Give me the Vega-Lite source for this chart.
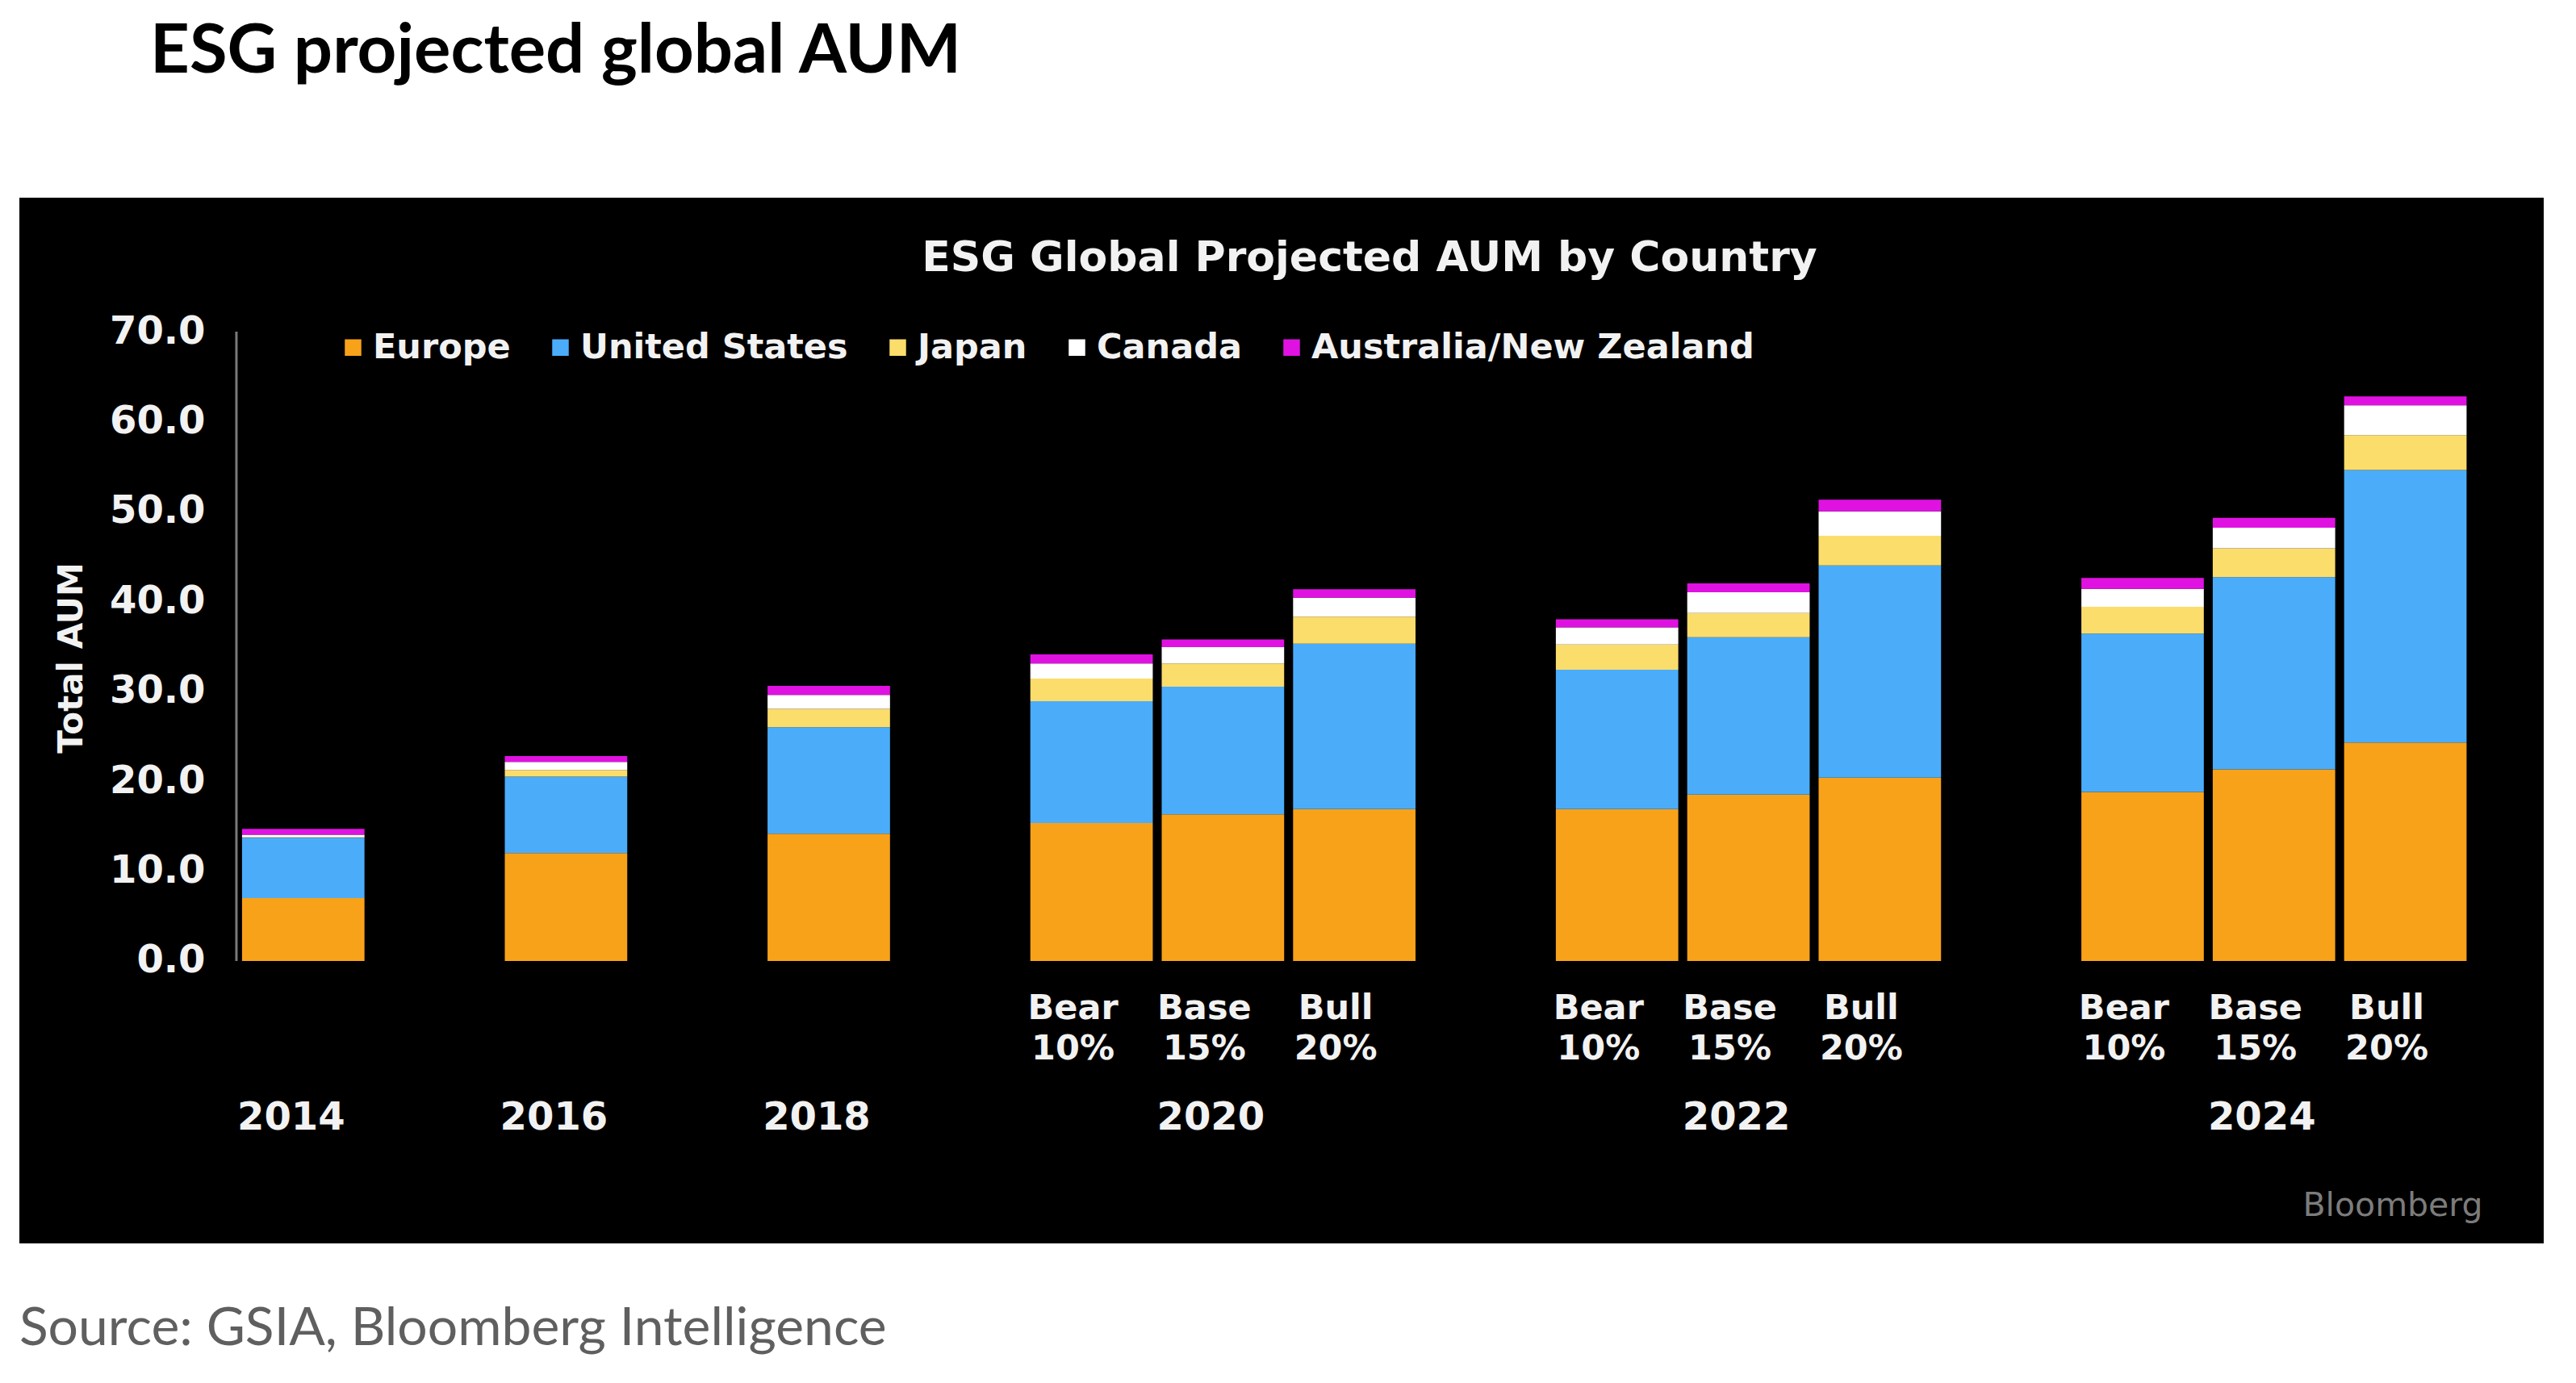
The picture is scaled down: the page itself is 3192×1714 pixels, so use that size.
{
  "$schema": "https://vega.github.io/schema/vega-lite/v6.json",
  "background": "white",
  "padding": {"left": 24, "top": 22, "right": 40, "bottom": 20},
  "title": {"text": "Source: GSIA, Bloomberg Intelligence", "orient": "bottom", "anchor": "start", "font": "Lato", "fontSize": 66, "fontWeight": "normal", "color": "#5f5f5f", "offset": 74, "baseline": "top"},
  "vconcat": [
    {
      "title": {"text": "ESG projected global AUM", "anchor": "start", "dx": 162, "font": "Lato", "fontSize": 85, "fontWeight": "bold", "color": "#000000", "offset": 137, "baseline": "top"},
      "vconcat": [
        {
          "width": 3128,
          "height": 1296,
          "title": {"text": "ESG Global Projected AUM by Country", "anchor": "middle", "dx": 109, "offset": -102, "font": "DejaVu Sans", "fontWeight": "bold", "fontSize": 52, "color": "#f2f2f2", "baseline": "top"},
          "resolve": {"axis": {"x": "independent"}},
          "layer": [
            {
              "data": {"values": [
                {"slot": "2014", "region": "Europe", "aum": 7.0},
                {"slot": "2014", "region": "United States", "aum": 6.7},
                {"slot": "2014", "region": "Japan", "aum": 0.05},
                {"slot": "2014", "region": "Canada", "aum": 0.3},
                {"slot": "2014", "region": "Australia/New Zealand", "aum": 0.65},
                {"slot": "2016", "region": "Europe", "aum": 12.0},
                {"slot": "2016", "region": "United States", "aum": 8.5},
                {"slot": "2016", "region": "Japan", "aum": 0.75},
                {"slot": "2016", "region": "Canada", "aum": 0.9},
                {"slot": "2016", "region": "Australia/New Zealand", "aum": 0.65},
                {"slot": "2018", "region": "Europe", "aum": 14.15},
                {"slot": "2018", "region": "United States", "aum": 11.85},
                {"slot": "2018", "region": "Japan", "aum": 2.05},
                {"slot": "2018", "region": "Canada", "aum": 1.55},
                {"slot": "2018", "region": "Australia/New Zealand", "aum": 1.0},
                {"slot": "2020 Bear", "region": "Europe", "aum": 15.35},
                {"slot": "2020 Bear", "region": "United States", "aum": 13.55},
                {"slot": "2020 Bear", "region": "Japan", "aum": 2.5},
                {"slot": "2020 Bear", "region": "Canada", "aum": 1.7},
                {"slot": "2020 Bear", "region": "Australia/New Zealand", "aum": 1.0},
                {"slot": "2020 Base", "region": "Europe", "aum": 16.3},
                {"slot": "2020 Base", "region": "United States", "aum": 14.2},
                {"slot": "2020 Base", "region": "Japan", "aum": 2.6},
                {"slot": "2020 Base", "region": "Canada", "aum": 1.8},
                {"slot": "2020 Base", "region": "Australia/New Zealand", "aum": 0.85},
                {"slot": "2020 Bull", "region": "Europe", "aum": 16.9},
                {"slot": "2020 Bull", "region": "United States", "aum": 18.4},
                {"slot": "2020 Bull", "region": "Japan", "aum": 3.0},
                {"slot": "2020 Bull", "region": "Canada", "aum": 2.1},
                {"slot": "2020 Bull", "region": "Australia/New Zealand", "aum": 0.95},
                {"slot": "2022 Bear", "region": "Europe", "aum": 16.9},
                {"slot": "2022 Bear", "region": "United States", "aum": 15.5},
                {"slot": "2022 Bear", "region": "Japan", "aum": 2.8},
                {"slot": "2022 Bear", "region": "Canada", "aum": 1.9},
                {"slot": "2022 Bear", "region": "Australia/New Zealand", "aum": 0.9},
                {"slot": "2022 Base", "region": "Europe", "aum": 18.5},
                {"slot": "2022 Base", "region": "United States", "aum": 17.5},
                {"slot": "2022 Base", "region": "Japan", "aum": 2.7},
                {"slot": "2022 Base", "region": "Canada", "aum": 2.3},
                {"slot": "2022 Base", "region": "Australia/New Zealand", "aum": 1.0},
                {"slot": "2022 Bull", "region": "Europe", "aum": 20.4},
                {"slot": "2022 Bull", "region": "United States", "aum": 23.6},
                {"slot": "2022 Bull", "region": "Japan", "aum": 3.3},
                {"slot": "2022 Bull", "region": "Canada", "aum": 2.7},
                {"slot": "2022 Bull", "region": "Australia/New Zealand", "aum": 1.3},
                {"slot": "2024 Bear", "region": "Europe", "aum": 18.8},
                {"slot": "2024 Bear", "region": "United States", "aum": 17.6},
                {"slot": "2024 Bear", "region": "Japan", "aum": 3.0},
                {"slot": "2024 Bear", "region": "Canada", "aum": 2.0},
                {"slot": "2024 Bear", "region": "Australia/New Zealand", "aum": 1.2},
                {"slot": "2024 Base", "region": "Europe", "aum": 21.3},
                {"slot": "2024 Base", "region": "United States", "aum": 21.4},
                {"slot": "2024 Base", "region": "Japan", "aum": 3.2},
                {"slot": "2024 Base", "region": "Canada", "aum": 2.3},
                {"slot": "2024 Base", "region": "Australia/New Zealand", "aum": 1.1},
                {"slot": "2024 Bull", "region": "Europe", "aum": 24.3},
                {"slot": "2024 Bull", "region": "United States", "aum": 30.3},
                {"slot": "2024 Bull", "region": "Japan", "aum": 3.9},
                {"slot": "2024 Bull", "region": "Canada", "aum": 3.3},
                {"slot": "2024 Bull", "region": "Australia/New Zealand", "aum": 1.0}
              ]},
              "transform": [
                {"calculate": "indexof(['Europe','United States','Japan','Canada','Australia/New Zealand'], datum.region)", "as": "stackRank"}
              ],
              "mark": {"type": "bar"},
              "encoding": {
                "x": {
                  "field": "slot", "type": "nominal",
                  "scale": {"domain": ["pad0","2014","gap1","2016","gap2","2018","gap3","2020 Bear","2020 Base","2020 Bull","gap4","2022 Bear","2022 Base","2022 Bull","gap5","2024 Bear","2024 Base","2024 Bull"], "paddingInner": 0.068, "paddingOuter": 0.641, "align": 0.542},
                  "axis": {
                    "orient": "bottom", "offset": -350, "title": null,
                    "values": ["2020 Bear","2020 Base","2020 Bull","2022 Bear","2022 Base","2022 Bull","2024 Bear","2024 Base","2024 Bull"],
                    "labelExpr": "indexof(datum.value,'Bear')>=0 ? ['Bear','10%'] : indexof(datum.value,'Base')>=0 ? ['Base','15%'] : ['Bull','20%']",
                    "domain": false, "ticks": false, "grid": false, "tickSize": 0,
                    "labelPadding": 37, "labelOffset": -23, "labelAngle": 0, "labelAlign": "center", "labelBaseline": "top",
                    "labelFont": "DejaVu Sans", "labelFontWeight": "bold", "labelFontSize": 43, "labelLineHeight": 50, "labelColor": "#f2f2f2"
                  }
                },
                "y": {
                  "field": "aum", "type": "quantitative", "stack": "zero",
                  "scale": {"domain": [-31.42, 84.9], "nice": false, "zero": false},
                  "axis": {
                    "orient": "left", "offset": -269, "values": [0,10,20,30,40,50,60,70], "format": ".1f",
                    "domain": false, "ticks": false, "tickSize": 0, "grid": false,
                    "labelPadding": 39, "labelFont": "DejaVu Sans", "labelFontWeight": "bold", "labelFontSize": 48, "labelColor": "#f2f2f2",
                    "title": "Total AUM", "titleFont": "DejaVu Sans", "titleFontWeight": "bold", "titleFontSize": 42, "titleColor": "#f2f2f2",
                    "titleX": -205, "titleY": 570, "titleAngle": 270, "titleAlign": "center", "titleBaseline": "middle"
                  }
                },
                "order": {"field": "stackRank", "type": "quantitative", "sort": "ascending"},
                "color": {
                  "field": "region", "type": "nominal",
                  "sort": ["Europe","United States","Japan","Canada","Australia/New Zealand"],
                  "scale": {"domain": ["Europe","United States","Japan","Canada","Australia/New Zealand"], "range": ["#F8A21A","#4BADFA","#FBDD6C","#FFFFFF","#E012E2"]},
                  "legend": {
                    "orient": "none", "legendX": 392, "legendY": 164, "direction": "horizontal", "title": null,
                    "symbolType": "square", "symbolSize": 420, "symbolStrokeWidth": 0, "symbolOpacity": 1,
                    "labelFont": "DejaVu Sans", "labelFontWeight": "bold", "labelFontSize": 43, "labelColor": "#f2f2f2",
                    "labelOffset": 3, "columnPadding": 40, "labelLimit": 0
                  }
                }
              }
            },
            {
              "data": {"values": [{}]},
              "mark": {"type": "rule", "color": "#7a7a7a", "strokeWidth": 3},
              "encoding": {
                "x": {
                  "datum": "2014", "type": "nominal", "bandPosition": -0.046,
                  "scale": {"domain": ["pad0","2014","gap1","2016","gap2","2018","gap3","2020 Bear","2020 Base","2020 Bull","gap4","2022 Bear","2022 Base","2022 Bull","gap5","2024 Bear","2024 Base","2024 Bull"], "paddingInner": 0.068, "paddingOuter": 0.641, "align": 0.542},
                  "axis": {
                    "orient": "bottom", "offset": -350,
                    "values": ["2014","2016","2018","2020 Base","2022 Base","2024 Base"],
                    "labelExpr": "substring(datum.value,0,4)",
                    "domain": false, "ticks": false, "grid": false, "tickSize": 0,
                    "labelPadding": 170, "labelOffset": -15, "labelAngle": 0, "labelAlign": "center", "labelBaseline": "top",
                    "labelFont": "DejaVu Sans", "labelFontWeight": "bold", "labelFontSize": 48, "labelColor": "#f2f2f2",
                    "title": "Bloomberg", "titleFont": "DejaVu Sans", "titleFontWeight": "normal", "titleFontSize": 41, "titleColor": "#7c7c7c",
                    "titleAnchor": "end", "titleX": 3052, "titleY": 303, "titleAlign": "right", "titleBaseline": "middle"
                  }
                },
                "y": {"datum": 0, "type": "quantitative", "title": "Total AUM"},
                "y2": {"datum": 70}
              }
            }
          ]
        }
      ]
    }
  ],
  "config": {
    "view": {"fill": "#000000", "stroke": null},
    "bar": {"strokeWidth": 0}
  }
}
